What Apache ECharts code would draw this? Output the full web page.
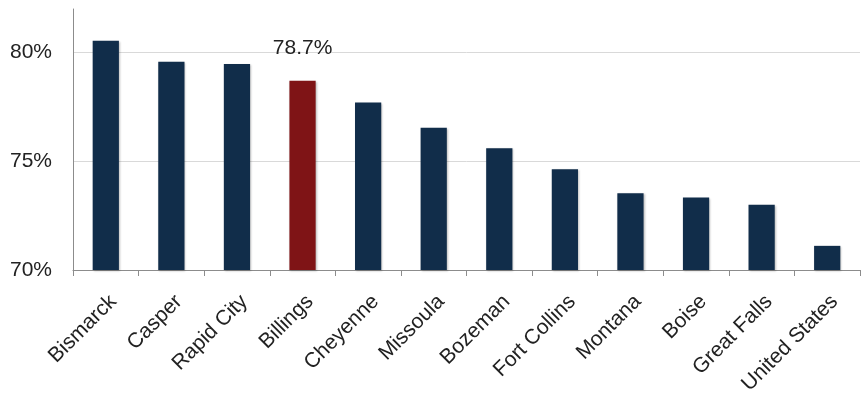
<!DOCTYPE html>
<html>
<head>
<meta charset="utf-8">
<script src="https://cdn.jsdelivr.net/npm/echarts@6/dist/echarts.min.js"></script>
<style>
    html, body { margin: 0; padding: 0; background: #fff; }
    #chart { width: 861px; height: 396px; }
</style>
</head>
<body>
<div id="chart"></div>
<script>
    // 数据
    const categories = ['Bismarck', 'Casper', 'Rapid City', 'Billings', 'Cheyenne', 'Missoula',
        'Bozeman', 'Fort Collins', 'Montana', 'Boise', 'Great Falls', 'United States'];
    const values = [80.54, 79.57, 79.47, 78.7, 77.7, 76.54, 75.6, 74.63, 73.53, 73.33, 73.0, 71.11];
    const highlight = 'Billings';

    const navy = '#112D4A';
    const red = '#7F1416';
    const textColor = '#222';
    const font = 'Liberation Sans, Arial, sans-serif';

    const chart = echarts.init(document.getElementById('chart'));
    chart.setOption({
        animation: false,
        backgroundColor: '#ffffff',
        grid: { left: 73, right: 1, top: 9, bottom: 126, containLabel: false, outerBoundsMode: 'none' },
        xAxis: {
            type: 'category',
            data: categories,
            axisLine: { lineStyle: { color: '#8c8c8c', width: 1 } },
            axisTick: { show: true, length: 6, lineStyle: { color: '#8c8c8c' } },
            axisLabel: {
                rotate: 45,
                margin: 21,
                fontSize: 21,
                fontFamily: font,
                color: textColor,
                verticalAlign: 'top'
            }
        },
        yAxis: {
            type: 'value',
            min: 70,
            max: 82,
            interval: 5,
            axisLine: { show: true, lineStyle: { color: '#8c8c8c' } },
            axisTick: { show: false },
            splitLine: { show: true, showMaxLine: false, lineStyle: { color: '#d9d9d9' } },
            axisLabel: {
                margin: 21,
                fontSize: 21,
                fontFamily: font,
                color: textColor,
                showMaxLabel: false,
                formatter: function (v) { return v % 5 === 0 ? v + '%' : ''; }
            }
        },
        series: [{
            type: 'bar',
            barWidth: '40%',
            data: categories.map(function (c, i) {
                const isHi = c === highlight;
                return {
                    value: values[i],
                    itemStyle: {
                        color: isHi ? red : navy,
                        shadowColor: 'rgba(0,0,0,0.25)',
                        shadowBlur: 2,
                        shadowOffsetX: 1,
                        shadowOffsetY: 1
                    },
                    label: {
                        show: isHi,
                        position: 'top',
                        distance: 22,
                        fontSize: 21,
                        fontFamily: font,
                        color: textColor,
                        formatter: function (p) { return p.value.toFixed(1) + '%'; }
                    }
                };
            })
        }]
    });
</script>
</body>
</html>
